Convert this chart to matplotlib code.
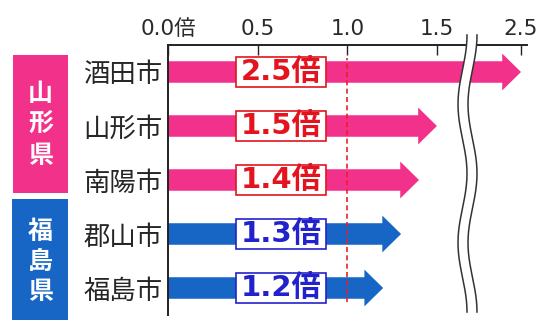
import numpy as np
import matplotlib
matplotlib.use("Agg")
import matplotlib.pyplot as plt
from matplotlib.patches import Rectangle, Polygon, ArrowStyle

plt.rcParams['font.family'] = ['DejaVu Sans', 'Noto Sans CJK JP']

# ---- data ----
cities = ['酒田市', '山形市', '南陽市', '郡山市', '福島市']
ratios = [2.5, 1.5, 1.4, 1.3, 1.2]
city_pref = ['山形県', '山形県', '山形県', '福島県', '福島県']
prefectures = ['山形県', '福島県']
tick_values = [0.0, 0.5, 1.0, 1.5, 2.5]
tick_labels = ['0.0倍', '0.5', '1.0', '1.5', '2.5']
reference_ratio = 1.0

# ---- styles ----
BAR_COLOR = {'山形県': '#F2318B', '福島県': '#1766C6'}
TEXT_COLOR = {'山形県': '#E3141E', '福島県': '#2222CC'}

W, H = 551, 334
fig = plt.figure(figsize=(W / 100, H / 100), dpi=100)
ax = fig.add_axes([168 / W, 19 / H, 359 / W, 270 / H])

# broken scale: values beyond BRK are compressed
BRK, K = 1.7, 0.336


def fwd(v):
    v = np.asarray(v, dtype=float)
    return np.where(v <= BRK, v, BRK + (v - BRK) * K)


def inv(u):
    u = np.asarray(u, dtype=float)
    return np.where(u <= BRK, u, BRK + (u - BRK) / K)


ax.set_xscale('function', functions=(fwd, inv))
ax.set_xlim(0, 2.6)
ax.set_ylim(len(cities) - 0.5, -0.5)

# arrows
for i, (v, p) in enumerate(zip(ratios, city_pref)):
    ax.annotate('', xy=(v, i), xytext=(0, i),
                arrowprops=dict(arrowstyle=ArrowStyle.Simple(head_length=13.5, head_width=26.5, tail_width=15.5),
                                mutation_scale=1, shrinkA=0, shrinkB=0,
                                fc=BAR_COLOR[p], ec='none', lw=0),
                zorder=2)

# value boxes
BOX_X0, BOX_W, BOX_H = 0.379, 0.502, 0.57
for i, (v, p) in enumerate(zip(ratios, city_pref)):
    ax.add_patch(Rectangle((BOX_X0, i - BOX_H / 2), BOX_W, BOX_H, fc='white',
                           ec=TEXT_COLOR[p], lw=1.2, zorder=3))
    ax.text(BOX_X0 + BOX_W / 2, i, f'{v:.1f}倍', ha='center', va='center',
            fontsize=21, fontweight='bold', color=TEXT_COLOR[p], zorder=4)

# reference line
ax.axvline(reference_ratio, ymin=0.048, ymax=0.952, color='#E8202A', lw=1.2,
           ls=(0, (3, 2)), zorder=5)

# axes styling
for s in ['right', 'bottom']:
    ax.spines[s].set_visible(False)
for s in ['top', 'left']:
    ax.spines[s].set_linewidth(1.4)
    ax.spines[s].set_color('#222222')
ax.xaxis.tick_top()
ax.set_xticks(tick_values)
ax.set_xticklabels(tick_labels)
ax.tick_params(axis='x', direction='in', length=7.5, width=1, colors='#222222',
               labelsize=15.5, pad=4, labelcolor='#2a2a2a')
ax.set_yticks(range(len(cities)))
ax.set_yticklabels(cities, fontsize=19, color='#262626', family='Noto Sans CJK JP')
ax.tick_params(axis='y', length=0, pad=4)

# axis break marks
yy = np.linspace(35, 312, 200)
xl = 462.5 + 4.5 * np.cos(2 * np.pi * 2 * (yy - 35) / (312 - 35))
xr = xl + 10
fx = lambda px: (px - 168) / 359
fy = lambda py: 1 - (py - 45) / 270
poly = np.column_stack([np.concatenate([fx(xl), fx(xr[::-1])]),
                        np.concatenate([fy(yy), fy(yy[::-1])])])
ax.add_patch(Polygon(poly, closed=True, fc='white', ec='none',
                     transform=ax.transAxes, clip_on=False, zorder=10))
for xs in (xl, xr):
    ax.plot(fx(xs), fy(yy), color='#333333', lw=1.1, transform=ax.transAxes,
            clip_on=False, zorder=11)

# prefecture badges
badges = {'山形県': (13, 55, 68, 193, [94, 125, 156]),
          '福島県': (12, 199, 68, 320, [232, 262, 292])}
for p in prefectures:
    x0, y0, x1, y1, ys = badges[p]
    fig.add_artist(Rectangle((x0 / W, 1 - y1 / H), (x1 - x0) / W, (y1 - y0) / H,
                             transform=fig.transFigure, fc=BAR_COLOR[p], ec='none'))
    for ch, yc in zip(p, ys):
        fig.text(40.5 / W, 1 - yc / H, ch, ha='center', va='center', fontsize=18,
                 fontweight='bold', color='white', family='Noto Sans CJK JP')

fig.savefig('out.png', dpi=100)
